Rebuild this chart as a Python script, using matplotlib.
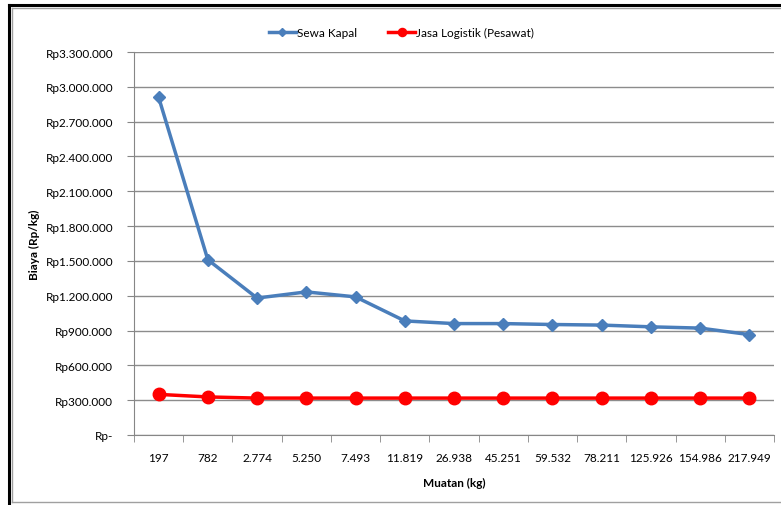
import matplotlib.pyplot as plt
from matplotlib.lines import Line2D
from matplotlib.ticker import FuncFormatter

plt.rcParams['font.family'] = ['Lato', 'DejaVu Sans']

muatan = ['197', '782', '2.774', '5.250', '7.493', '11.819', '26.938',
          '45.251', '59.532', '78.211', '125.926', '154.986', '217.949']
sewa_kapal = [2910000, 1510000, 1180000, 1233000, 1190000, 983000, 960000,
              960000, 952000, 947000, 932000, 921000, 865000]
jasa_logistik = [350000, 328000, 318000, 318000, 318000, 318000, 318000,
                 318000, 318000, 318000, 318000, 318000, 318000]
y_ticks = list(range(0, 3300001, 300000))

W, H = 781, 506
fig = plt.figure(figsize=(W / 100, H / 100), dpi=100)

# outer frame: thick black on left/top, thin gray just inside
fig.add_artist(Line2D([9 / W, 9 / W], [0, 1 - 6 / H], color='black', lw=2.2))
fig.add_artist(Line2D([9 / W, 1], [1 - 6 / H, 1 - 6 / H], color='black', lw=2.2))
fig.add_artist(Line2D([12 / W, 12 / W], [1 - 9 / H, 3 / H], color='#a0a0a0', lw=1))
fig.add_artist(Line2D([12 / W, 1], [1 - 9 / H, 1 - 9 / H], color='#a0a0a0', lw=1))
fig.add_artist(Line2D([12 / W, 1], [3 / H, 3 / H], color='#a0a0a0', lw=1))

left, right, top, bottom = 134, 774, 53, 436
ax = fig.add_axes([left / W, 1 - bottom / H, (right - left) / W, (bottom - top) / H])

x = range(len(muatan))
ax.plot(x, sewa_kapal, color='#4a7ebb', lw=2.5, marker='D', ms=6,
        label='Sewa Kapal', zorder=3)
ax.plot(x, jasa_logistik, color='#ff0000', lw=2.5, marker='o', ms=9,
        label='Jasa Logistik (Pesawat)', zorder=3)

ax.set_xlim(-0.5, len(muatan) - 0.5)
ax.set_ylim(0, 3300000)
ax.set_yticks(y_ticks)


def rupiah(v, pos):
    if v == 0:
        return 'Rp-'
    return 'Rp' + f'{int(v):,}'.replace(',', '.')


ax.yaxis.set_major_formatter(FuncFormatter(rupiah))
ax.set_xticks(x)
ax.set_xticklabels(muatan)
ax.set_xticks([i - 0.5 for i in range(len(muatan) + 1)], minor=True)
ax.tick_params(axis='x', which='major', length=0, pad=12, labelsize=8.5)
ax.tick_params(axis='x', which='minor', length=5, color='#868686')
ax.tick_params(axis='y', length=5, color='#868686', pad=10, labelsize=8.5)
ax.grid(axis='y', color='#8c8c8c', lw=1)
ax.set_axisbelow(True)

for s in ['top', 'right']:
    ax.spines[s].set_visible(False)
ax.spines['left'].set_color('#868686')
ax.spines['bottom'].set_color('#868686')

ax.set_xlabel('Muatan (kg)', fontsize=8.5, fontweight='bold', labelpad=10)
ax.set_ylabel('Biaya (Rp/kg)', fontsize=8.5, fontweight='bold', labelpad=4)

fig.legend(loc='upper center', bbox_to_anchor=(0.5 + 11 / W, 1 - 17 / H), ncol=2,
           frameon=False, fontsize=8.5, handlelength=2.3, columnspacing=2.6,
           handletextpad=0.1, markerscale=0.65)

fig.savefig('out.png', dpi=100)
